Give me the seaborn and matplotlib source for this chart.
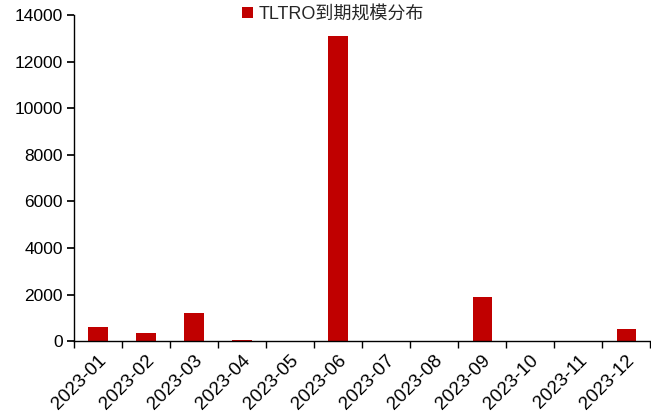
import matplotlib
matplotlib.use("Agg")
import matplotlib.pyplot as plt
import seaborn as sns
import pandas as pd
from matplotlib.ticker import FixedLocator

months = ["2023-01", "2023-02", "2023-03", "2023-04", "2023-05", "2023-06",
          "2023-07", "2023-08", "2023-09", "2023-10", "2023-11", "2023-12"]
maturity = [600, 360, 1200, 50, 0, 13100, 0, 0, 1880, 0, 0, 500]
series_name = "TLTRO到期规模分布"

sns.set_theme(style="white")
plt.rcParams["font.family"] = ["Liberation Sans", "Noto Sans CJK SC", "DejaVu Sans"]

df = pd.DataFrame({"month": months, "value": maturity, "series": series_name})

fig = plt.figure(figsize=(6.51, 4.18), dpi=100)
ax = fig.add_axes([0.1137, 0.184, 0.885, 0.78])

sns.barplot(data=df, x="month", y="value", hue="series", palette=["#C00000"],
            saturation=1, width=0.4, linewidth=0, edgecolor="none", ax=ax, legend=True)

ax.set_ylim(0, 14000)
ax.set_xlim(-0.5, len(months) - 0.5)
ax.set_yticks(range(0, 14001, 2000))
ax.set_xlabel("")
ax.set_ylabel("")

for side in ["top", "right"]:
    ax.spines[side].set_visible(False)
for side in ["left", "bottom"]:
    ax.spines[side].set_color("black")
    ax.spines[side].set_linewidth(1.0)

ax.tick_params(axis="y", which="major", direction="out", length=5, color="black",
               labelsize=12.5, labelcolor="black", left=True, pad=3)
ax.tick_params(axis="x", which="major", length=0, labelsize=13.5, labelcolor="black", pad=8)
ax.xaxis.set_minor_locator(FixedLocator([i - 0.5 for i in range(len(months) + 1)]))
ax.tick_params(axis="x", which="minor", direction="out", length=5, color="black", bottom=True)
plt.setp(ax.get_xticklabels(), rotation=45, ha="right", rotation_mode="anchor")

leg = ax.legend(loc="upper center", bbox_to_anchor=(0.449, 1.05), frameon=False,
                fontsize=13, handlelength=0.6, handleheight=0.6, handletextpad=0.3,
                borderaxespad=0)

fig.savefig("out.png", dpi=100)
